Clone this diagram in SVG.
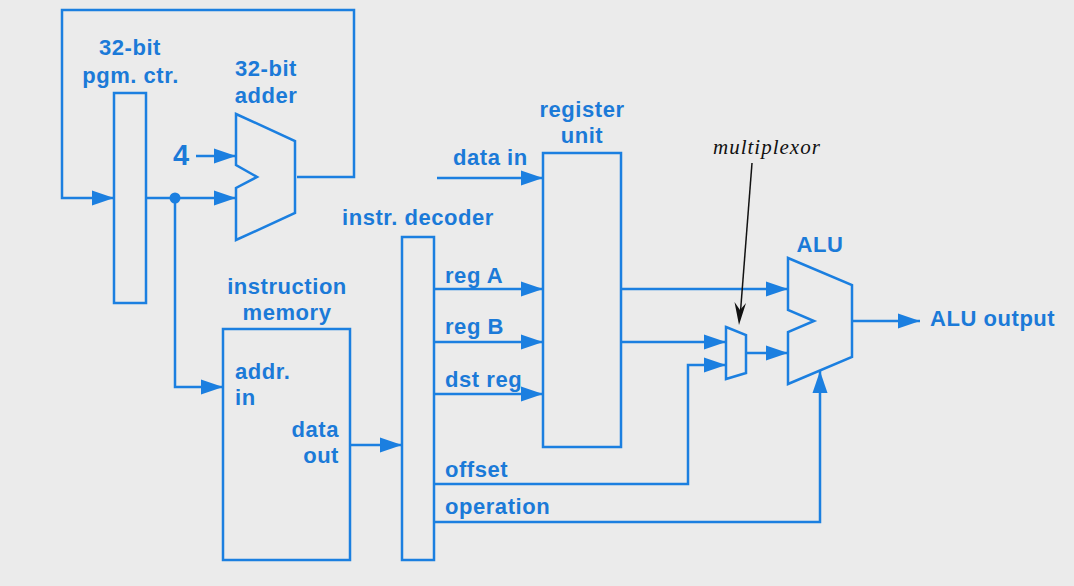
<svg xmlns="http://www.w3.org/2000/svg" width="1074" height="586" viewBox="0 0 1074 586">
<style>
.s{fill:none;stroke:#1b7fe0;stroke-width:2.5;stroke-linejoin:miter}
.a{marker-end:url(#arr)}
text{font-family:"Liberation Sans",Arial,sans-serif;font-weight:700;font-size:22px;fill:#1b7ad8;letter-spacing:.55px}
.m{text-anchor:middle}
.e{text-anchor:end}
</style>
<defs>
<marker id="arr" markerUnits="userSpaceOnUse" markerWidth="24" markerHeight="18" refX="22" refY="8" orient="auto"><path d="M0 0.5L22 8L0 15.5Z" fill="#1b7fe0"/></marker>
</defs>
<rect width="1074" height="586" fill="#ebebeb"/>
<g id="connectors">
<path class="s a" d="M297 177H354V10H62V198H114"/>
<path class="s a" d="M146 198H236"/>
<path class="s a" d="M196 156H236"/>
<path class="s a" d="M175 198V387H223"/>
<circle cx="175" cy="198" r="5.5" fill="#1b7fe0"/>
<path class="s a" d="M350 445H402"/>
<path class="s a" d="M437 178H543"/>
<path class="s a" d="M434 289H543"/>
<path class="s a" d="M434 342H543"/>
<path class="s a" d="M434 394H543"/>
<path class="s a" d="M621 289H788"/>
<path class="s a" d="M621 342H726"/>
<path class="s a" d="M434 484H688V365H726"/>
<path class="s a" d="M746 353H788"/>
<path class="s a" d="M434 522H820V371"/>
<path class="s a" d="M852 321H920"/>
<path d="M752 163L740 318" fill="none" stroke="#111" stroke-width="1.5"/>
<path d="M739 325L734.500 302L740 310L746 303Z" fill="#111"/>
</g>
<g id="pgm-ctr"><rect class="s" x="114" y="93" width="32" height="210"/><text class="m" x="130" y="55">32-bit</text><text class="m" x="130.500" y="83">pgm. ctr.</text></g>
<g id="adder"><path class="s" d="M236 114L295 141V213L236 240V188L257 177L236 165Z"/><text class="m" x="266" y="76">32-bit</text><text class="m" x="266" y="103">adder</text></g>
<g id="four"><text x="173" y="165" style="font-size:29px;letter-spacing:0">4</text></g>
<g id="instruction-memory"><rect class="s" x="223" y="329" width="127" height="231"/><text class="m" x="287" y="294">instruction</text><text class="m" x="287" y="320">memory</text><text x="235" y="379">addr.</text><text x="235" y="405">in</text><text class="e" x="339" y="437">data</text><text class="e" x="339" y="463">out</text></g>
<g id="decoder"><rect class="s" x="402" y="237" width="32" height="323"/><text class="m" x="418" y="225">instr. decoder</text><text x="445" y="283">reg A</text><text x="445" y="334">reg B</text><text x="445" y="387">dst reg</text><text x="445" y="477">offset</text><text x="445" y="514">operation</text></g>
<g id="register-unit"><rect class="s" x="543" y="153" width="78" height="294"/><text class="m" x="582" y="117">register</text><text class="m" x="582" y="143">unit</text><text x="453" y="165">data in</text></g>
<g id="mux"><path class="s" d="M726 327L746 335V373L726 379Z"/><text x="713" y="154" style="font-family:'Liberation Serif',serif;font-style:italic;font-weight:400;font-size:21px;fill:#111;letter-spacing:1px">multiplexor</text></g>
<g id="alu"><path class="s" d="M788 258L852 285V357L788 384V332L814 321L788 310Z"/><text class="m" x="820" y="252">ALU</text><text x="930" y="326">ALU output</text></g>
</svg>
